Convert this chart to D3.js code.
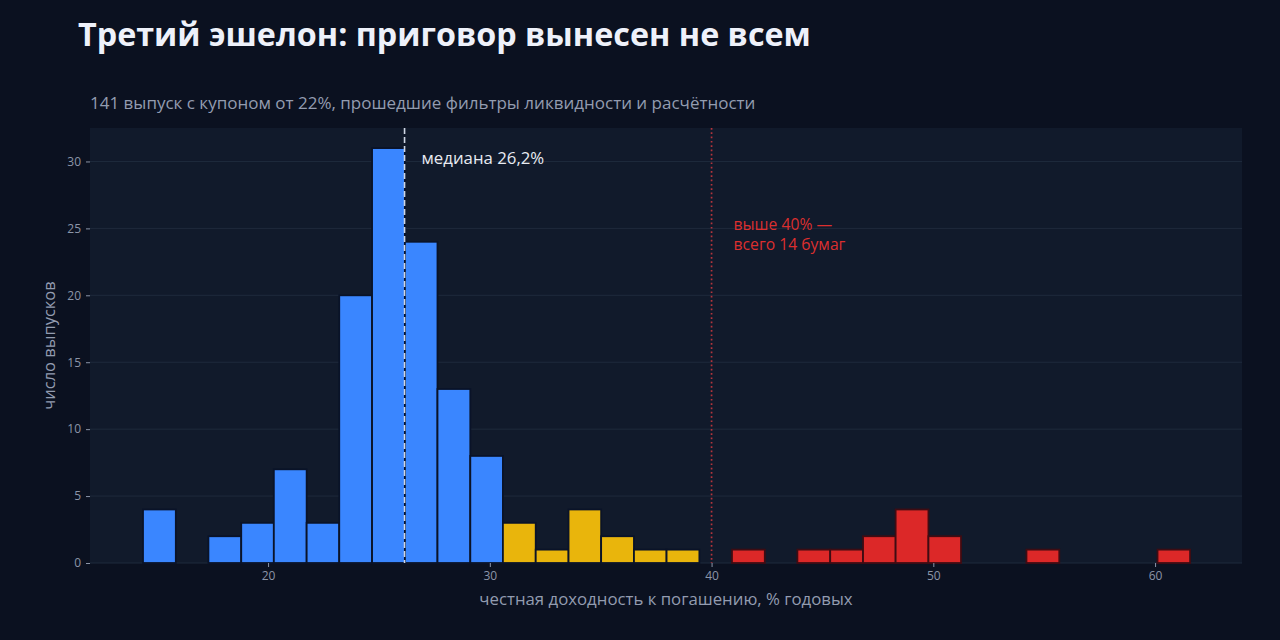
<!DOCTYPE html>
<html><head><meta charset="utf-8">
<script src="https://cdn.jsdelivr.net/npm/d3@7"></script>
<style>
html,body{margin:0;padding:0;background:#0b1120;}
svg{display:block;font-family:"Open Sans","Noto Sans",sans-serif;}
</style></head>
<body><svg id="c" width="1280" height="640"></svg>
<script>
// histogram bin edges (% yield) and counts
const binEdges = [14.36,15.84,17.31,18.79,20.26,21.74,23.21,24.69,26.17,27.64,29.12,30.59,32.07,33.55,35.02,36.50,37.97,39.45,40.92,42.40,43.87,45.35,46.83,48.30,49.78,51.25,52.73,54.20,55.68,57.16,58.63,60.11,61.58];
const binCounts = [4,0,2,3,7,3,20,31,24,13,8,3,1,4,2,1,1,0,1,0,1,1,2,4,2,0,0,1,0,0,0,1];
const xTicks = [20,30,40,50,60];
const yTicks = [0,5,10,15,20,25,30];
const medianValue = 26.2;
const thresholdValue = 40;
const groupBreaks = [30,40];

const W=1280,H=640;
const m={left:90,right:1242,top:128,bottom:563};
const svg=d3.select("#c");
const x=d3.scaleLinear().domain([11.97,63.92]).range([m.left,m.right]);
const y=d3.scaleLinear().domain([0,32.5]).range([m.bottom,m.top]);

const tickCol="#8b95a8";
svg.append("rect").attr("x",0).attr("y",0).attr("width",W).attr("height",H).attr("fill","#0b1120");
svg.append("rect").attr("x",m.left).attr("y",m.top).attr("width",m.right-m.left).attr("height",m.bottom-m.top).attr("fill","#111a2b");

// grid
svg.append("g").selectAll("line").data(yTicks).join("line")
  .attr("x1",m.left).attr("x2",m.right).attr("y1",d=>y(d)).attr("y2",d=>y(d))
  .attr("stroke","#1f2a3c").attr("stroke-width",1);

// bars
const bins=binCounts.map((c,i)=>({x0:binEdges[i],x1:binEdges[i+1],c})).filter(d=>d.c>0);
function col(d){const mid=(d.x0+d.x1)/2; return mid<groupBreaks[0]?"#3a86ff":(mid<groupBreaks[1]?"#e9b50c":"#dc2828");}
function edge(d){const mid=(d.x0+d.x1)/2; return mid<groupBreaks[1]?"#0a1328":"#3f0c13";}
svg.append("g").selectAll("rect").data(bins).join("rect")
  .attr("x",d=>x(d.x0)).attr("width",d=>x(d.x1)-x(d.x0))
  .attr("y",d=>y(d.c)).attr("height",d=>y(0)-y(d.c))
  .attr("fill",col).attr("stroke",edge).attr("stroke-width",1.8);

// median line
svg.append("line").attr("x1",x(medianValue)-1).attr("x2",x(medianValue)-1).attr("y1",m.top).attr("y2",m.bottom)
  .attr("stroke","#cfd6e4").attr("stroke-width",1.6).attr("stroke-dasharray","6,3");
svg.append("text").attr("x",x(medianValue)+16).attr("y",164).attr("fill","#e8ebf2").attr("font-size",16.8).text("медиана 26,2%");

// threshold line
svg.append("line").attr("x1",x(thresholdValue)).attr("x2",x(thresholdValue)).attr("y1",m.top).attr("y2",m.bottom)
  .attr("stroke","#b3343c").attr("stroke-width",1.7).attr("stroke-dasharray","1.7,2.6");
const ann=svg.append("text").attr("fill","#dc2f2f").attr("font-size",15.7);
ann.append("tspan").attr("x",x(thresholdValue)+22).attr("y",230).text("выше 40% —");
ann.append("tspan").attr("x",x(thresholdValue)+22).attr("y",250).text("всего 14 бумаг");

// axes
const xa=svg.append("g").attr("transform",`translate(0,${m.bottom})`)
  .call(d3.axisBottom(x).tickValues(xTicks).tickSize(4).tickPadding(4));
const ya=svg.append("g").attr("transform",`translate(${m.left},0)`)
  .call(d3.axisLeft(y).tickValues(yTicks).tickSize(4).tickPadding(5));
[xa,ya].forEach(a=>{a.select(".domain").remove();
  a.selectAll("line").attr("stroke",tickCol);
  a.selectAll("text").attr("fill",tickCol).attr("font-size",12).attr("font-family","'Open Sans','Noto Sans',sans-serif");});

// labels
svg.append("text").attr("x",78).attr("y",46).attr("fill","#eef1fa").attr("font-size",32.3).attr("font-weight",700)
  .text("Третий эшелон: приговор вынесен не всем");
svg.append("text").attr("x",90).attr("y",109).attr("fill","#939cb0").attr("font-size",17)
  .text("141 выпуск с купоном от 22%, прошедшие фильтры ликвидности и расчётности");
svg.append("text").attr("x",(m.left+m.right)/2).attr("y",605).attr("text-anchor","middle").attr("fill","#939cb0").attr("font-size",16.8)
  .text("честная доходность к погашению, % годовых");
svg.append("text").attr("transform",`translate(55,${(m.top+m.bottom)/2}) rotate(-90)`).attr("text-anchor","middle").attr("fill","#939cb0").attr("font-size",16.5)
  .text("число выпусков");
</script></body></html>
